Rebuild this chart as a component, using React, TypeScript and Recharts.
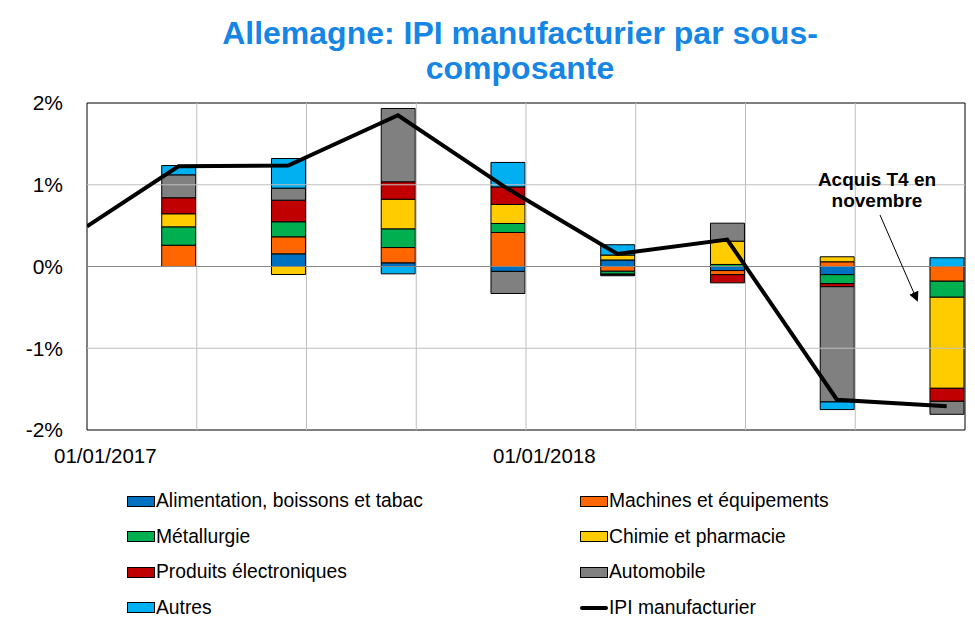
import React from 'react';
import { ComposedChart, Bar, Line, XAxis, YAxis, ReferenceLine, ReferenceArea } from 'recharts';

// months since 01/01/2017 (bars sit on the last month of each quarter)
const quarterMonths = [2.5, 5.5, 8.5, 11.5, 14.5, 17.5, 20.5, 23.5];

// contributions, in %
const alimentation = [0, 0.155, 0.045, -0.06, 0.08, -0.05, -0.1, 0];
const machines = [0.26, 0.208, 0.187, 0.416, -0.058, -0.05, 0.058, -0.18];
const metallurgie = [0.225, 0.184, 0.229, 0.11, -0.035, 0.025, -0.11, -0.196];
const chimie = [0.16, -0.098, 0.362, 0.233, 0.06, 0.285, 0.061, -1.114];
const electronique = [0.196, 0.264, 0.213, 0.215, -0.01, -0.1, -0.037, -0.159];
const automobile = [0.28, 0.147, 0.897, -0.27, -0.01, 0.22, -1.41, -0.159];
const autres = [0.114, 0.363, -0.09, 0.299, 0.126, 0, -0.093, 0.107];

const ipiMonths = [0, 2.5, 5.5, 8.5, 11.5, 14.5, 17.5, 20.5, 23.5];
const ipi = [0.49, 1.226, 1.235, 1.85, 0.95, 0.153, 0.33, -1.63, -1.71];

const yTicks = [-2, -1, 0, 1, 2];
const xTicks = [0.5, 12.5];
const xTickLabels = ['01/01/2017', '01/01/2018'];
const quarterBounds = [3, 6, 9, 12, 15, 18, 21];

const seriesKeys = ['alim', 'mach', 'metal', 'chimie', 'elec', 'auto', 'autres'];
const seriesNames = [
  'Alimentation, boissons et tabac',
  'Machines et équipements',
  'Métallurgie',
  'Chimie et pharmacie',
  'Produits électroniques',
  'Automobile',
  'Autres',
];
const seriesValues = [alimentation, machines, metallurgie, chimie, electronique, automobile, autres];
const lineName = 'IPI manufacturier';

const COLORS: Record<string, string> = {
  alim: '#0070C0',
  mach: '#FF6600',
  metal: '#00B050',
  chimie: '#FFCC00',
  elec: '#C00000',
  auto: '#808080',
  autres: '#00B0F0',
};

const FONT = '"Liberation Sans", Arial, sans-serif';

const data = ipiMonths.map((m, i) => {
  const row: any = { m, ipi: ipi[i] };
  const q = quarterMonths.indexOf(m);
  if (q >= 0) {
    seriesKeys.forEach((k, s) => {
      row[k] = seriesValues[s][q];
    });
  }
  return row;
});

const legendItems = [
  ...seriesKeys.map((k, i) => ({ name: seriesNames[i], color: COLORS[k], line: false })),
  { name: lineName, color: '#000', line: true },
];

function ChartLegend() {
  return (
    <div style={{ position: 'absolute', left: 127, top: 489, width: 840, fontFamily: FONT, fontSize: 19.3 }}>
      {legendItems.map((item, i) => (
        <div
          key={item.name}
          style={{
            position: 'absolute',
            left: (i % 2) * 453,
            top: Math.floor(i / 2) * 35.5,
            display: 'flex',
            alignItems: 'center',
            height: 24,
            whiteSpace: 'nowrap',
          }}
        >
          {item.line ? (
            <span style={{ width: 28, height: 4, background: '#000', borderRadius: 2 }} />
          ) : (
            <span style={{ width: 26, height: 9, background: item.color, border: '1px solid #000' }} />
          )}
          <span style={{ marginLeft: 1 }}>{item.name}</span>
        </div>
      ))}
    </div>
  );
}

export default function App() {
  return (
    <div style={{ position: 'relative', width: 975, height: 635, background: '#fff', fontFamily: FONT }}>
      <style>{'body{margin:0}'}</style>
      <div
        style={{
          position: 'absolute',
          top: 16,
          left: 0,
          width: 1040,
          textAlign: 'center',
          color: '#1585E6',
          fontWeight: 'bold',
          fontSize: 32,
          lineHeight: '35px',
        }}
      >
        Allemagne: IPI manufacturier par sous-
        <br />
        composante
      </div>

      <ComposedChart
        width={975}
        height={475}
        data={data}
        stackOffset="sign"
        margin={{ top: 103, right: 10, bottom: 0, left: 0 }}
      >
        <XAxis
          dataKey="m"
          type="number"
          domain={[0, 24]}
          ticks={xTicks}
          tickFormatter={(v: number) => xTickLabels[xTicks.indexOf(v)]}
          axisLine={false}
          tickLine={false}
          tickSize={0}
          tickMargin={18}
          height={45}
          tick={{ fill: '#000', fontSize: 20.5, fontFamily: FONT }}
          allowDataOverflow
        />
        <YAxis
          domain={[-2, 2]}
          ticks={yTicks}
          tickFormatter={(v: number) => `${v}%`}
          axisLine={false}
          tickLine={false}
          tickSize={0}
          tickMargin={24}
          width={87}
          tick={{ fill: '#000', fontSize: 21, fontFamily: FONT }}
          allowDataOverflow
        />
        {quarterBounds.map((x) => (
          <ReferenceLine key={`v${x}`} x={x} stroke="#BFBFBF" strokeWidth={1} />
        ))}
        <ReferenceLine y={1} stroke="#BFBFBF" strokeWidth={1} />
        <ReferenceLine y={-1} stroke="#BFBFBF" strokeWidth={1} />
        <ReferenceLine y={0} stroke="#868686" strokeWidth={1} />
        {seriesKeys.map((k, i) => (
          <Bar
            key={k}
            dataKey={k}
            name={seriesNames[i]}
            stackId="a"
            fill={COLORS[k]}
            stroke="#000"
            strokeWidth={1}
            barSize={34}
            isAnimationActive={false}
          />
        ))}
        <Line
          dataKey="ipi"
          name={lineName}
          type="linear"
          stroke="#000"
          strokeWidth={4}
          dot={false}
          activeDot={false}
          isAnimationActive={false}
        />
        <ReferenceArea x1={0} x2={24} y1={-2} y2={2} fill="none" stroke="#000" strokeWidth={1} />
      </ComposedChart>

      <svg width={975} height={635} style={{ position: 'absolute', left: 0, top: 0, pointerEvents: 'none' }}>
        <defs>
          <marker id="arrow" markerWidth="10" markerHeight="10" refX="8" refY="5" orient="auto" markerUnits="userSpaceOnUse">
            <path d="M0,0 L10,5 L0,10 z" fill="#000" />
          </marker>
        </defs>
        <text x={877} y={186} textAnchor="middle" fontFamily={FONT} fontWeight="bold" fontSize={19} fill="#000">
          Acquis T4 en
        </text>
        <text x={877} y={207} textAnchor="middle" fontFamily={FONT} fontWeight="bold" fontSize={19} fill="#000">
          novembre
        </text>
        <line x1={880} y1={215} x2={917} y2={300} stroke="#000" strokeWidth={1} markerEnd="url(#arrow)" />
      </svg>

      <ChartLegend />
    </div>
  );
}
